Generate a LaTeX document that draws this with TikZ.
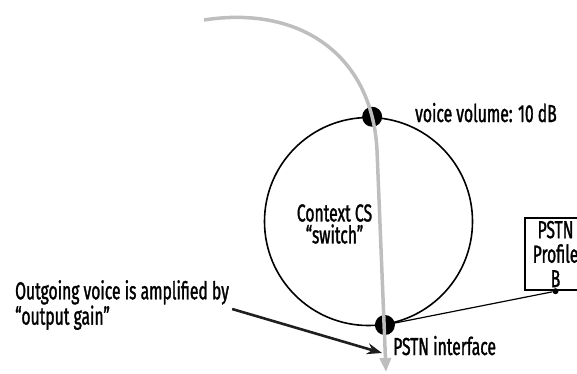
\documentclass[tikz,border=0pt]{standalone}
\usepackage{xcolor}
\usepackage{fontspec}
\setmainfont[FakeStretch=0.64,FakeBold=1.3]{Fira Sans}
\usetikzlibrary{arrows.meta}
\definecolor{flowgray}{RGB}{190,190,190}

\begin{document}
\begin{tikzpicture}[x=1pt,y=-1pt,font=\fontsize{24.5}{22}\selectfont,
    dot/.style={circle,fill=black,inner sep=0pt,minimum size=20pt},
    lbl/.style={inner sep=0pt,align=left},
    flow/.style={flowgray,line width=3.5pt,-{Triangle[length=14pt,width=11pt]}},
    arr/.style={black!88,line width=2.6pt,-{Stealth[length=15pt,width=11pt]}}]
  \useasboundingbox (0,0) rectangle (577,373);
  \node[circle,draw,line width=1.6pt,minimum size=208pt,inner sep=0pt] (sw) at (368.5,221.5) {};
  \node[lbl,align=center] (swl) at (334.5,224) {Context CS\\``switch''};
  \node[dot] (vol) at (sw.88) {};
  \node[dot] (pstn) at (sw.-81) {};
  \node[draw,line width=2.4pt,minimum width=61pt,minimum height=72pt,inner sep=0pt,
        align=center,font=\fontsize{24.5}{24.5}\selectfont] (prof) at (555.5,254) {PSTN\\Profile\\B};
  \node[circle,fill=black,inner sep=0pt,minimum size=6pt] (pdot) at (prof.south) {};
  \node[lbl,anchor=base west] (voll) at (415,122) {voice volume: 10 dB};
  \node[lbl,anchor=base west] (pstnl) at (393,355) {PSTN interface};
  \node[lbl,anchor=west] (gain) at (15,305) {Outgoing voice is amplified by\\``output gain''};
  \coordinate (src) at (204,20);
  \coordinate (bend) at (377,150);
  \coordinate (sink) at (386,372);
  \coordinate (tip) at (382,353);
  \draw[line width=1.2pt] (pstn.center) -- (pdot);
  \draw[arr] ([xshift=3pt,yshift=-4pt]gain.east) -- (tip);
  \draw[flow] (src) .. controls (300,5) and (372,55) .. (bend) -- (sink);
\end{tikzpicture}
\end{document}
